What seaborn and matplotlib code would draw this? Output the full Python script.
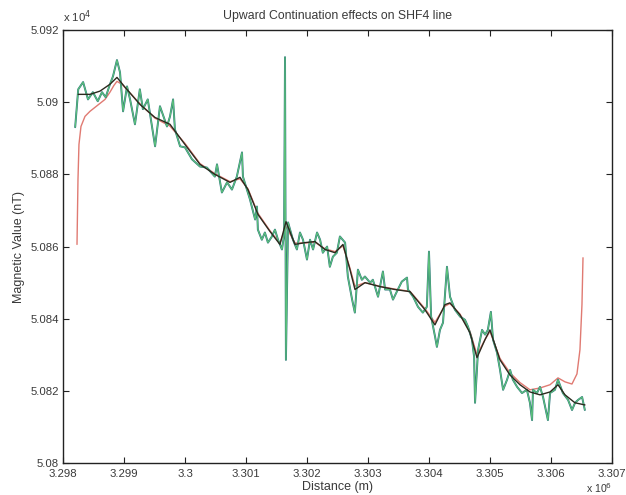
import matplotlib
matplotlib.use("Agg")
import matplotlib.pyplot as plt
from matplotlib.ticker import FuncFormatter
import pandas as pd
import seaborn as sns

# ---- data (distance in m, magnetic value in nT) ----
raw_x = [3298200, 3298250, 3298330, 3298410, 3298490, 3298570, 3298640, 3298700, 3298770, 3298820,
         3298885, 3298935, 3298985, 3299050, 3299100, 3299180, 3299260, 3299310, 3299390, 3299510,
         3299590, 3299705, 3299755, 3299805, 3299835, 3299920, 3300000, 3300115, 3300245, 3300360,
         3300490, 3300525, 3300605, 3300690, 3300770, 3300850, 3300935, 3300950, 3301065, 3301150,
         3301180, 3301195, 3301260, 3301310, 3301360, 3301425, 3301475, 3301525, 3301590, 3301625,
         3301640, 3301655, 3301690, 3301770, 3301835, 3301885, 3301935, 3302000, 3302050, 3302100,
         3302165, 3302215, 3302260, 3302330, 3302375, 3302425, 3302490, 3302540, 3302625, 3302670,
         3302740, 3302785, 3302835, 3302900, 3302950, 3303035, 3303080, 3303165, 3303245, 3303280,
         3303360, 3303410, 3303490, 3303555, 3303640, 3303655, 3303740, 3303820, 3303900, 3303965,
         3304000, 3304035, 3304100, 3304130, 3304180, 3304230, 3304295, 3304345, 3304425, 3304510,
         3304590, 3304640, 3304705, 3304740, 3304755, 3304805, 3304870, 3304920, 3304965, 3305015,
         3305050, 3305115, 3305165, 3305215, 3305280, 3305330, 3305375, 3305445, 3305525, 3305605,
         3305655, 3305690, 3305705, 3305770, 3305820, 3305870, 3305950, 3305985, 3306065, 3306115,
         3306195, 3306280, 3306345, 3306395, 3306445, 3306510, 3306555]
raw_y = [50893.1, 50903.6, 50905.6, 50900.8, 50902.8, 50900.3, 50902.8, 50901.4, 50905.0, 50907.2,
         50911.7, 50908.3, 50897.5, 50904.4, 50900.8, 50893.9, 50903.6, 50898.1, 50900.8, 50887.8,
         50898.9, 50893.3, 50896.1, 50900.8, 50892.5, 50887.8, 50887.5, 50884.2, 50882.2, 50881.9,
         50879.4, 50882.8, 50875.0, 50877.8, 50875.8, 50879.4, 50886.1, 50879.4, 50873.1, 50867.5,
         50871.1, 50864.7, 50861.9, 50863.9, 50861.1, 50862.8, 50864.7, 50861.9, 50859.2, 50863.3,
         50912.5, 50828.6, 50866.7, 50861.9, 50859.2, 50863.9, 50861.9, 50856.4, 50861.9, 50859.2,
         50863.9, 50861.9, 50858.3, 50860.0, 50854.4, 50857.2, 50858.3, 50862.8, 50861.1, 50851.7,
         50845.3, 50841.7, 50853.6, 50850.8, 50851.7, 50850.0, 50850.8, 50846.1, 50853.1, 50848.1,
         50848.1, 50845.3, 50848.1, 50850.3, 50851.4, 50848.1, 50846.1, 50843.3, 50841.7, 50843.3,
         50858.6, 50840.6, 50835.0, 50832.2, 50836.9, 50838.9, 50854.4, 50846.1, 50842.5, 50840.6,
         50839.7, 50837.8, 50834.2, 50829.4, 50816.7, 50831.4, 50836.9, 50835.6, 50836.9, 50841.9,
         50834.2, 50830.6, 50825.8, 50820.3, 50823.1, 50825.8, 50823.1, 50821.1, 50819.4, 50820.3,
         50816.7, 50811.9, 50820.3, 50819.4, 50821.1, 50818.3, 50811.9, 50819.4, 50820.3, 50823.1,
         50819.4, 50817.5, 50814.7, 50816.7, 50817.5, 50818.3, 50814.7]

low_x = [3298250, 3298443, 3298607, 3298770, 3298885, 3299016, 3299262, 3299508, 3299754, 3300000,
         3300246, 3300492, 3300738, 3300902, 3301033, 3301197, 3301393, 3301557, 3301656, 3301803,
         3301967, 3302131, 3302295, 3302459, 3302590, 3302705, 3302787, 3302951, 3303197, 3303443,
         3303689, 3303934, 3304098, 3304262, 3304344, 3304508, 3304672, 3304787, 3304918, 3305000,
         3305164, 3305328, 3305492, 3305656, 3305820, 3305984, 3306115, 3306230, 3306393, 3306557]
low_y = [50902.2, 50902.2, 50903.1, 50905.0, 50906.9, 50904.2, 50899.4, 50895.8, 50893.9, 50888.3,
         50882.8, 50880.0, 50877.8, 50879.2, 50875.8, 50868.9, 50864.2, 50860.6, 50866.9, 50860.6,
         50861.1, 50861.4, 50859.2, 50858.3, 50860.6, 50853.6, 50848.1, 50850.0, 50848.9, 50848.1,
         50847.5, 50842.5, 50838.3, 50843.9, 50844.4, 50841.1, 50836.1, 50829.2, 50834.2, 50836.9,
         50828.6, 50824.4, 50821.7, 50819.7, 50818.9, 50819.7, 50821.7, 50818.9, 50816.7, 50816.1]

up_x = [3298230, 3298246, 3298262, 3298295, 3298361, 3298443, 3298525, 3298607, 3298689, 3298770,
        3298836, 3298885, 3298967, 3299262, 3299508, 3299754, 3300000, 3300246, 3300492, 3300738,
        3300902, 3301033, 3301197, 3301393, 3301557, 3301656, 3301803, 3301967, 3302131, 3302295,
        3302459, 3302590, 3302705, 3302787, 3302951, 3303197, 3303443, 3303689, 3303934, 3304098,
        3304262, 3304344, 3304508, 3304672, 3304787, 3304918, 3305000, 3305164, 3305328, 3305492,
        3305656, 3305820, 3305984, 3306115, 3306230, 3306344, 3306426, 3306475, 3306508, 3306525]
up_y = [50860.6, 50878.6, 50888.3, 50893.3, 50896.1, 50897.5, 50898.6, 50899.7, 50900.8, 50902.8,
        50904.7, 50905.8, 50905.0, 50899.6, 50895.6, 50893.4, 50888.6, 50883.0, 50880.2, 50878.0,
        50878.8, 50876.0, 50869.2, 50864.4, 50861.0, 50865.5, 50861.0, 50861.0, 50861.2, 50859.4,
        50858.6, 50860.2, 50854.0, 50849.0, 50850.0, 50849.0, 50848.2, 50847.6, 50842.8, 50839.0,
        50843.5, 50844.2, 50841.3, 50836.5, 50830.0, 50834.2, 50836.5, 50829.0, 50825.0, 50822.3,
        50820.3, 50820.8, 50821.7, 50823.6, 50822.5, 50821.9, 50824.7, 50831.4, 50843.9, 50856.9]

x_ticks = [3298000, 3299000, 3300000, 3301000, 3302000, 3303000, 3304000, 3305000, 3306000, 3307000]
y_ticks = [50800, 50820, 50840, 50860, 50880, 50900, 50920]

title = "Upward Continuation effects on SHF4 line"
xlabel = "Distance (m)"
ylabel = "Magnetic Value (nT)"

# ---- plot ----
sns.set_theme(style="white")
plt.rcParams["font.family"] = ["Liberation Sans", "DejaVu Sans"]
txt = "#3a3a3a"

fig = plt.figure(figsize=(6.26, 4.95), dpi=100)
ax = fig.add_axes([0.1006, 0.0646, 0.8770, 0.8745])

raw = pd.DataFrame({"x": raw_x, "y": raw_y})
low = pd.DataFrame({"x": low_x, "y": low_y})
up = pd.DataFrame({"x": up_x, "y": up_y})

sns.lineplot(data=up, x="x", y="y", ax=ax, color="#e07a72", lw=1.0, estimator=None, sort=False)
sns.lineplot(data=raw, x="x", y="y", ax=ax, color="#2f7480", lw=1.4, estimator=None, sort=False)
sns.lineplot(data=raw, x="x", y="y", ax=ax, color="#5cc27a", lw=0.8, estimator=None, sort=False)
sns.lineplot(data=low, x="x", y="y", ax=ax, color="#2b2a1e", lw=1.0, estimator=None, sort=False)

ax.set_xlim(x_ticks[0], x_ticks[-1])
ax.set_ylim(y_ticks[0], y_ticks[-1])
ax.set_xticks(x_ticks)
ax.set_yticks(y_ticks)
ax.xaxis.set_major_formatter(FuncFormatter(lambda v, p: "%g" % round(v / 1e6, 6)))
ax.yaxis.set_major_formatter(FuncFormatter(lambda v, p: "%g" % round(v / 1e4, 6)))
ax.tick_params(direction="in", length=4, width=0.8, colors="#222222", labelcolor=txt,
               labelsize=8.2, top=True, right=True, bottom=True, left=True)
ax.tick_params(axis="x", pad=4.5)
ax.tick_params(axis="y", pad=3)
for s in ax.spines.values():
    s.set_visible(True)
    s.set_color("#222222")
    s.set_linewidth(1.0)

ax.set_title(title, fontsize=8.8, color=txt, pad=8)
ax.set_xlabel(xlabel, fontsize=9, color=txt, labelpad=1)
ax.set_ylabel(ylabel, fontsize=9, color=txt, labelpad=4)
ax.text(0.0, 1.012, r"x 10$^4$", transform=ax.transAxes, fontsize=8.2, color=txt,
        ha="left", va="bottom")
ax.text(1.0, -0.0735, r"x 10$^6$", transform=ax.transAxes, fontsize=7.6, color=txt,
        ha="right", va="bottom")

fig.savefig("out.png", dpi=100, facecolor="white")
